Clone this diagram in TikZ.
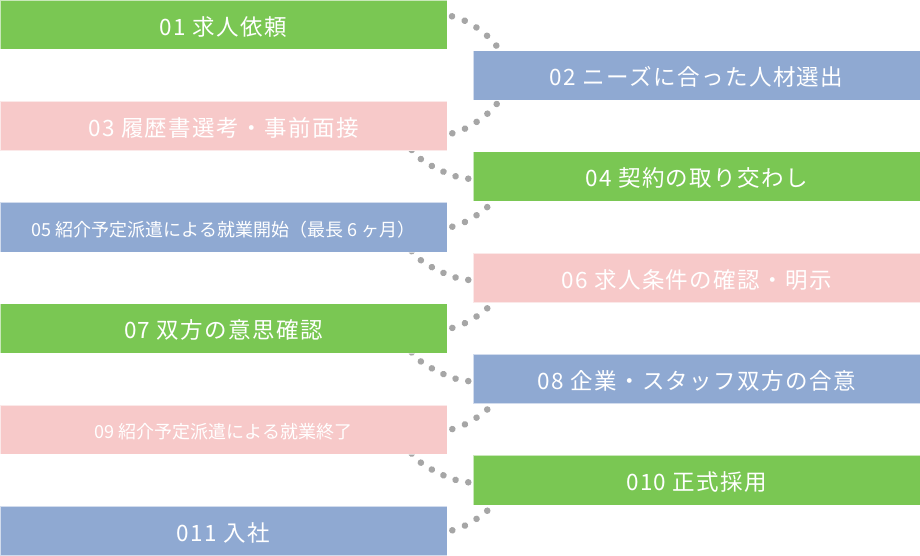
\documentclass[tikz,border=0pt]{standalone}
\usepackage{fontspec}
\usetikzlibrary{calc,decorations.markings}
\newfontfamily\jpbig[LetterSpace=6.3]{Noto Sans CJK JP}
\newfontfamily\jpsmall{Noto Sans CJK JP}
\definecolor{cgreen}{RGB}{122,199,83}
\definecolor{cblue}{RGB}{143,169,210}
\definecolor{cpink}{RGB}{247,201,201}
\definecolor{dotc}{RGB}{166,166,166}
\pgfdeclarelayer{bg}
\pgfsetlayers{bg,main}
\tikzset{
  box/.style={rectangle, anchor=north west, inner sep=0pt, outer sep=0pt,
    minimum height=49.5pt, text=white, draw=white, draw opacity=0.6,
    line width=0.6pt, text depth=0pt},
  lbox/.style={box, minimum width=447pt},
  rbox/.style={box, minimum width=446.7pt},
  bigtxt/.style={font=\jpbig\fontsize{22.5pt}{22.5pt}\selectfont, text height=20.8pt},
  smalltxt/.style={font=\jpsmall\fontsize{18pt}{18pt}\selectfont, text height=18.4pt},
  dotline/.style={decorate, decoration={markings,
    mark=between positions 0 and 1 step #1 with {\fill[dotc] (0,0) circle (3.3pt);}}}
}
\begin{document}
\begin{tikzpicture}[x=1pt,y=-1pt]
\useasboundingbox (0,0) rectangle (920,556);
% boxes
\node[lbox, bigtxt, fill=cgreen] (b01) at (0,0) {01 求人依頼};
\node[rbox, bigtxt, fill=cblue] (b02) at (473.3,50.6) {02 ニーズに合った人材選出};
\node[lbox, bigtxt, fill=cpink] (b03) at (0,101.2) {03 履歴書選考・事前面接};
\node[rbox, bigtxt, fill=cgreen] (b04) at (473.3,151.8) {04 契約の取り交わし};
\node[lbox, smalltxt, fill=cblue] (b05) at (0,202.4) {05 紹介予定派遣による就業開始（最長 6 ヶ月）};
\node[rbox, bigtxt, fill=cpink] (b06) at (473.3,253) {06 求人条件の確認・明示};
\node[lbox, bigtxt, fill=cgreen] (b07) at (0,303.6) {07 双方の意思確認};
\node[rbox, bigtxt, fill=cblue] (b08) at (473.3,354.2) {08 企業・スタッフ双方の合意};
\node[lbox, smalltxt, fill=cpink] (b09) at (0,404.8) {09 紹介予定派遣による就業終了};
\node[rbox, bigtxt, fill=cgreen] (b10) at (473.3,455.4) {010 正式採用};
\node[lbox, bigtxt, fill=cblue] (b11) at (0,506) {011 入社};
% connectors
\begin{pgfonlayer}{bg}
\path[dotline=0.2499] ($(b01.north east)+(5,16.3)$) .. controls +(15,3) and +(-10,-13) .. ($(b02.north west)+(23,-5)$);
\path[dotline=0.2499] ($(b02.south west)+(23.4,3.9)$) .. controls +(-7,10) and +(15,-3) .. ($(b03.north east)+(5.3,32.1)$);
\foreach \a/\b in {b03/b04, b05/b06, b07/b08, b09/b10}{
  \path[dotline=0.1999] ($(\a.south east)+(-35.3,-0.7)$) .. controls +(6,11) and +(-15,0) .. ($(\b.north west)+(-5,26.9)$);
}
\foreach \a/\b in {b04/b05, b06/b07, b08/b09, b10/b11}{
  \path[dotline=0.2499] ($(\a.south west)+(22.7,-4.3)$) .. controls +(-6,11) and +(14,-3) .. ($(\b.north east)+(5.3,24.3)$);
}
\end{pgfonlayer}
\end{tikzpicture}
\end{document}
